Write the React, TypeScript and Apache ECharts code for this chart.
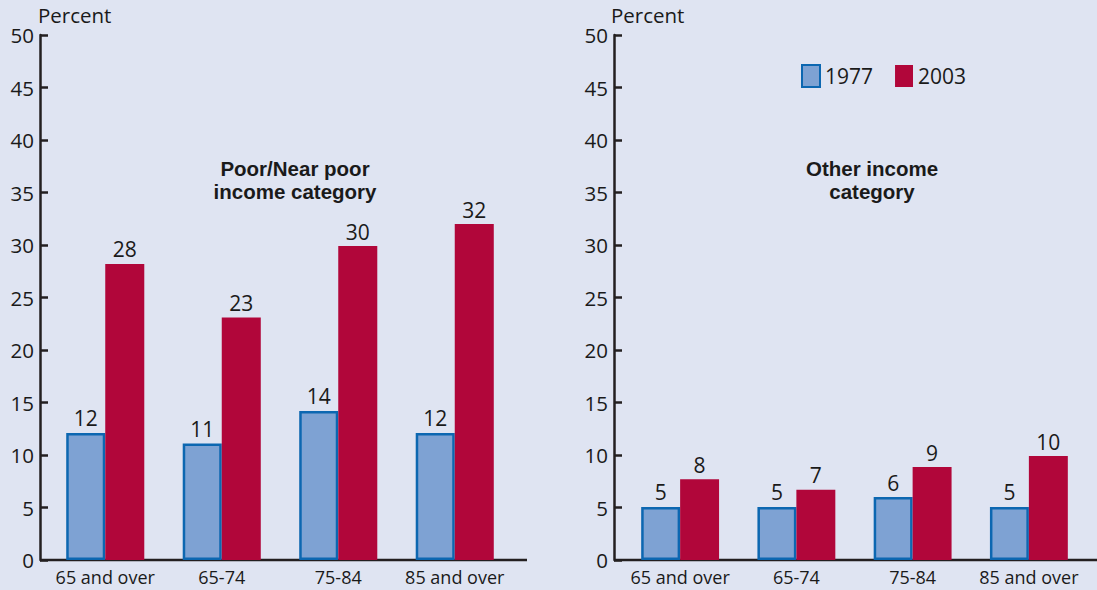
import React, { useEffect, useRef } from "react";
import * as echarts from "echarts";

const categories = ["65 and over", "65-74", "75-84", "85 and over"];
const poor1977 = [12.1, 11.1, 14.2, 12.1];
const poor2003 = [28.2, 23.1, 29.9, 32.0];
const other1977 = [5.05, 5.05, 6.0, 5.05];
const other2003 = [7.7, 6.7, 8.85, 9.9];
const yTicks = { min: 0, max: 50, interval: 5 };
const seriesNames = ["1977", "2003"];

const BG = "#dfe4f2";
const BLUE_FILL = "#7ea2d3";
const BLUE_BORDER = "#0c67b1";
const RED = "#b1063a";
const AXIS = "#231f20";
const TEXT = "#1a1a1a";
const FONT = "'Open Sans', 'Noto Sans', sans-serif";
const TITLE_FONT = "'Liberation Sans', Arial, sans-serif";

export default function App() {
  const ref = useRef<HTMLDivElement>(null);
  useEffect(() => {
    if (!ref.current) return;
    const chart = echarts.init(ref.current, null, { renderer: "svg" });
    const yAxisBase = (gridIndex: number, offset: number) => ({
      type: "value",
      gridIndex,
      min: yTicks.min,
      max: yTicks.max,
      interval: yTicks.interval,
      offset,
      axisLine: { show: true, lineStyle: { color: AXIS, width: 2.5 } },
      axisTick: { show: true, inside: true, length: 8, lineStyle: { color: AXIS, width: 2.5 } },
      axisLabel: { color: TEXT, fontSize: 20.5, fontFamily: FONT, margin: 6 },
      splitLine: { show: false },
    });
    const xAxisBase = (gridIndex: number) => ({
      type: "category",
      gridIndex,
      data: categories,
      axisLine: { show: false },
      axisTick: { show: false },
      axisLabel: { color: TEXT, fontSize: 18, fontFamily: FONT, margin: 8, interval: 0 },
    });
    const label = {
      show: true,
      position: "top",
      distance: 4,
      color: TEXT,
      fontSize: 21,
      fontFamily: FONT,
      formatter: (p: any) => String(Math.round(p.value)),
    };
    const bar = (name: string, data: number[], idx: number, blue: boolean) => ({
      name,
      type: "bar",
      xAxisIndex: idx,
      yAxisIndex: idx,
      data,
      barGap: "0%",
      barCategoryGap: "33%",
      itemStyle: blue
        ? { color: BLUE_FILL, borderColor: BLUE_BORDER, borderWidth: 2.5 }
        : { color: RED },
      label,
    });
    const titleText = (x: number, y: number, text: string) => ({
      type: "text",
      x,
      y,
      style: {
        text,
        fontSize: 20.5,
        lineHeight: 22,
        fontWeight: "bold",
        fontFamily: TITLE_FONT,
        fill: TEXT,
        align: "center",
        verticalAlign: "top",
      },
    });
    chart.setOption({
      animation: false,
      backgroundColor: BG,
      textStyle: { fontFamily: FONT },
      grid: [
        { left: 47, top: 35, width: 466, bottom: 30 },
        { left: 622, top: 35, width: 465, bottom: 30 },
      ],
      xAxis: [xAxisBase(0), xAxisBase(1)],
      yAxis: [yAxisBase(0, 7), yAxisBase(1, 8)],
      legend: {
        left: 796,
        top: 59,
        icon: "rect",
        itemWidth: 18,
        itemHeight: 22,
        itemGap: 22,
        textStyle: { color: TEXT, fontSize: 21, fontFamily: FONT },
        data: seriesNames,
      },
      series: [
        bar(seriesNames[0], poor1977, 0, true),
        bar(seriesNames[1], poor2003, 0, false),
        bar(seriesNames[0], other1977, 1, true),
        bar(seriesNames[1], other2003, 1, false),
      ],
      graphic: [
        { type: "line", shape: { x1: 40, y1: 560, x2: 527, y2: 560 }, style: { stroke: AXIS, lineWidth: 2.5 } },
        { type: "line", shape: { x1: 614, y1: 560, x2: 1097, y2: 560 }, style: { stroke: AXIS, lineWidth: 2.5 } },
        { type: "text", left: 38, top: 4, style: { text: "Percent", fontSize: 20.5, fontFamily: FONT, fill: TEXT } },
        { type: "text", left: 611, top: 4, style: { text: "Percent", fontSize: 20.5, fontFamily: FONT, fill: TEXT } },
        titleText(295, 157, "Poor/Near poor"),
        titleText(295, 180, "income category"),
        titleText(872, 157, "Other income"),
        titleText(872, 180, "category"),
      ],
    });
    return () => chart.dispose();
  }, []);
  return <div ref={ref} style={{ width: 1097, height: 590, position: "fixed", left: 0, top: 0 }} />;
}
